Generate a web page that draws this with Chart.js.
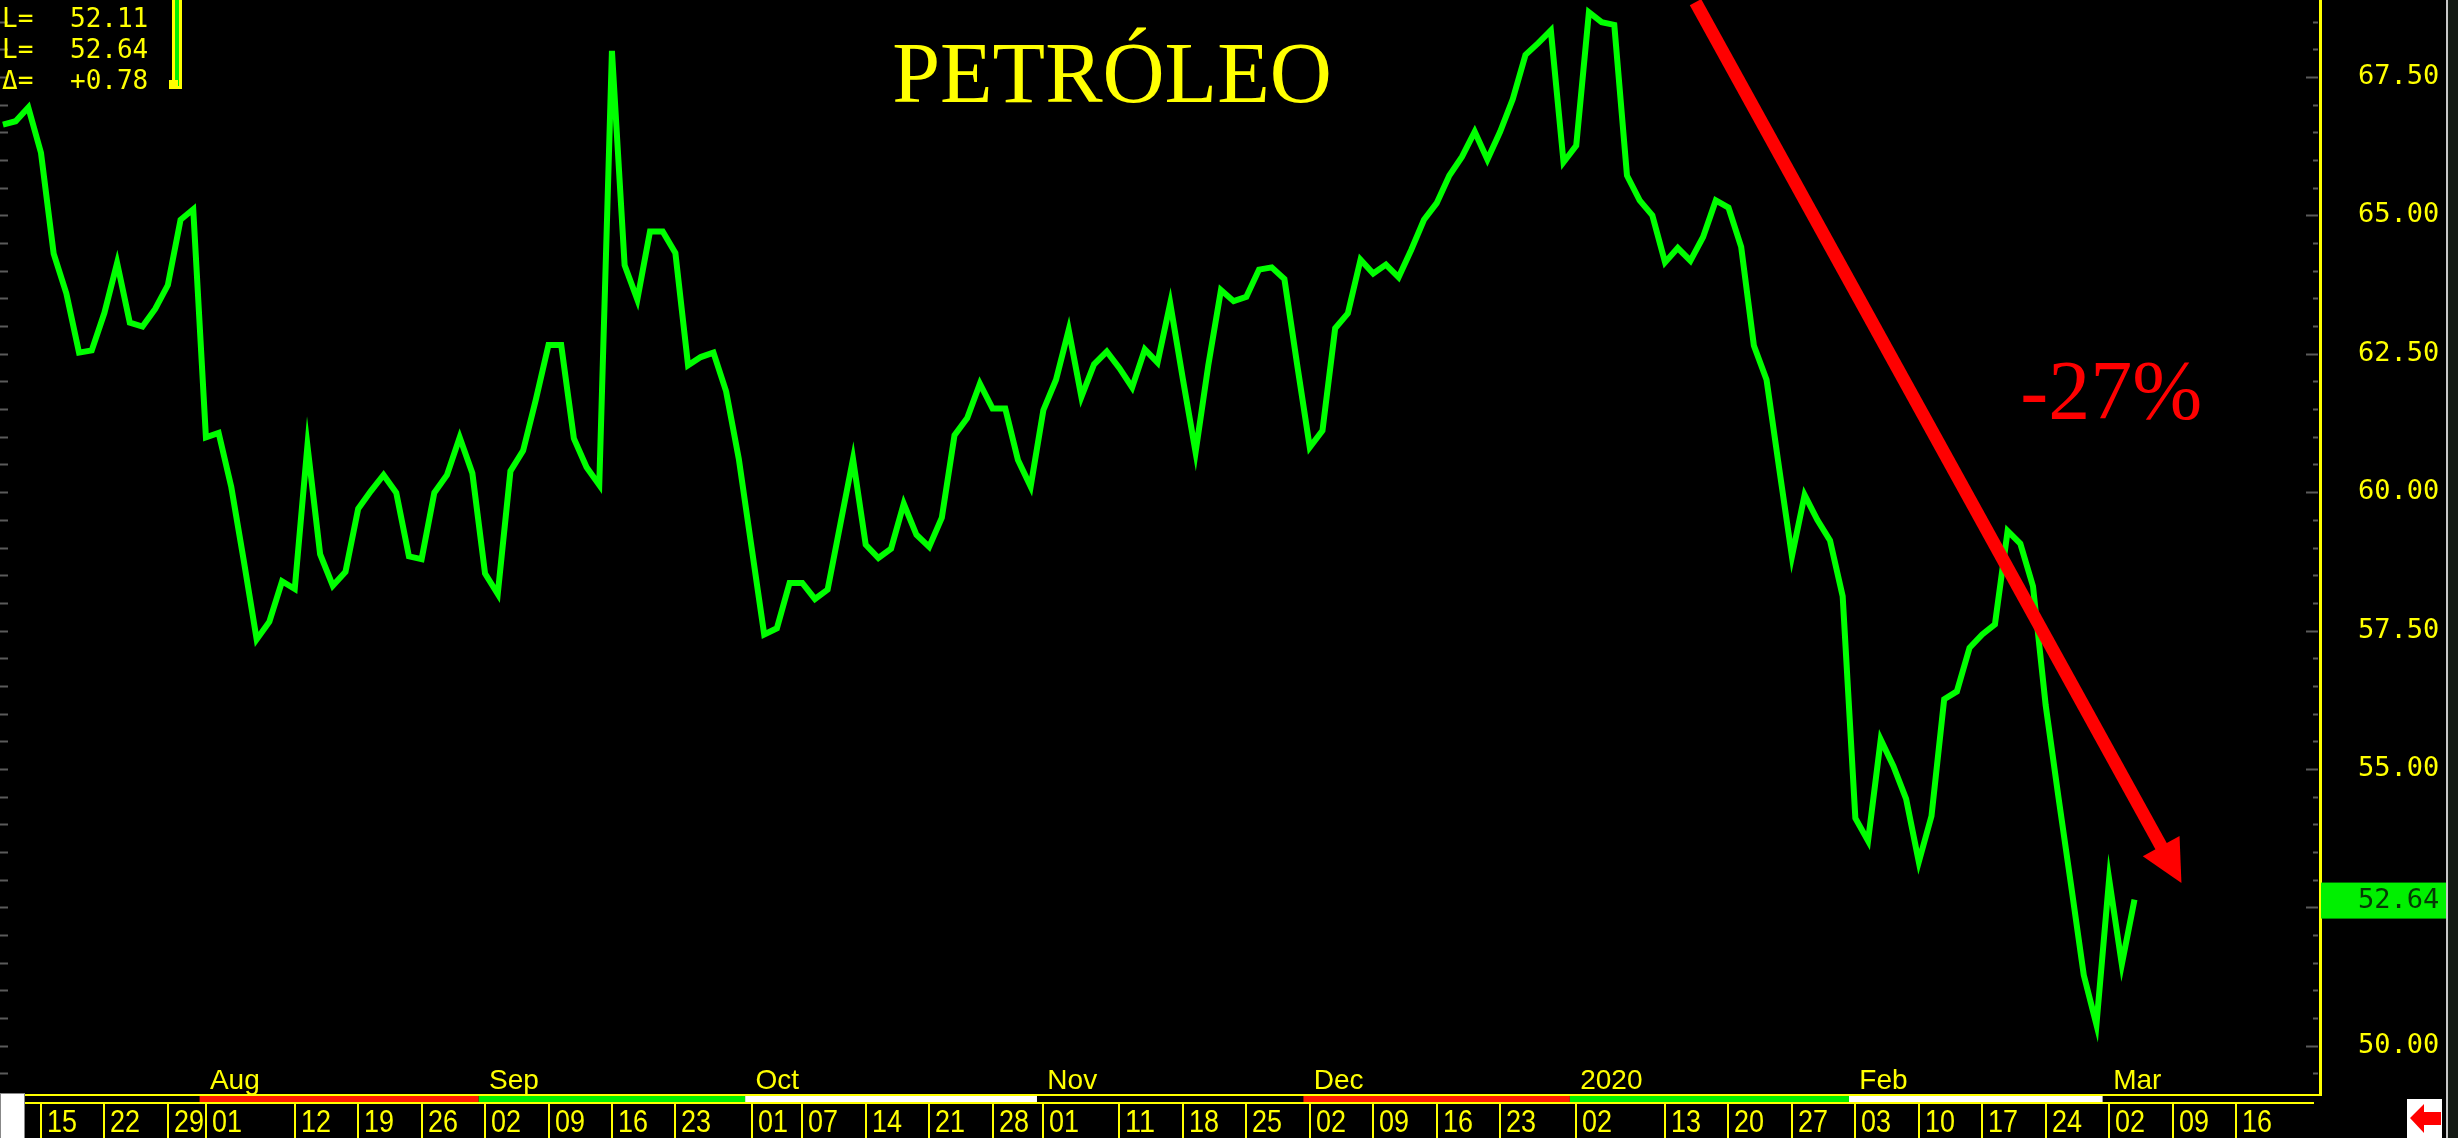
<!DOCTYPE html>
<html>
<head>
<meta charset="utf-8">
<script src="https://cdn.jsdelivr.net/npm/chart.js@4.4.1/dist/chart.umd.min.js"></script>
<style>
  html, body { margin: 0; padding: 0; background: #000; overflow: hidden; }
  #wrap { width: 2458px; height: 1138px; position: relative; }
</style>
</head>
<body>
<div id="wrap"><canvas id="chart" width="2458" height="1138"></canvas></div>
<script>
// Trading calendar: weekdays, minus the days the market was shut
const firstDay = "2019-07-10";
const lastDay = "2020-03-20";
const holidays = ["2019-12-25", "2020-01-01"];

// Daily closes, one per trading day from 2019-07-10 to 2020-03-04
const closes = [
  66.64, 66.70, 66.95, 66.13, 64.31, 63.59, 62.52, 62.56, 63.24, 64.14,
  63.06, 62.99, 63.31, 63.74, 64.92, 65.11, 60.99, 61.07, 60.09, 58.74,
  57.34, 57.66, 58.39, 58.25, 60.84, 58.88, 58.31, 58.56, 59.70, 60.02,
  60.31, 59.99, 58.84, 58.79, 59.99, 60.31, 60.99, 60.34, 58.53, 58.16,
  60.38, 60.75, 61.67, 62.66, 62.66, 60.97, 60.45, 60.13, 67.97, 64.10,
  63.48, 64.71, 64.71, 64.32, 62.29, 62.44, 62.52, 61.82, 60.60, 59.01,
  57.43, 57.54, 58.36, 58.36, 58.07, 58.24, 59.42, 60.60, 59.05, 58.81,
  58.98, 59.79, 59.23, 59.01, 59.54, 61.03, 61.34, 61.96, 61.51, 61.51,
  60.58, 60.10, 61.48, 62.03, 62.93, 61.72, 62.31, 62.54, 62.24, 61.89,
  62.58, 62.34, 63.41, 62.04, 60.72, 62.29, 63.65, 63.45, 63.53, 64.02,
  64.06, 63.85, 62.31, 60.81, 61.11, 62.96, 63.23, 64.20, 63.95, 64.11,
  63.88, 64.38, 64.92, 65.22, 65.72, 66.06, 66.51, 66.01, 66.51, 67.10,
  67.90, 68.11, 68.34, 65.96, 66.26, 68.67, 68.49, 68.44, 65.72, 65.27,
  65.00, 64.15, 64.41, 64.18, 64.61, 65.27, 65.14, 64.43, 62.65, 62.03,
  60.42, 58.84, 59.95, 59.50, 59.13, 58.12, 54.11, 53.70, 55.53, 55.05,
  54.46, 53.32, 54.15, 56.26, 56.40, 57.19, 57.43, 57.61, 59.30, 59.07,
  58.30, 56.15, 54.50, 52.90, 51.28, 50.38, 53.01, 51.47, 52.64
];

// Price axis
const yTicks = [50, 52.5, 55, 57.5, 60, 62.5, 65, 67.5];
const yMin = 49.11;
const yMax = 68.89;
const lastPrice = 52.64;

// Date strip under the chart
const dayTicks = [
  "2019-07-15", "2019-07-22", "2019-07-29", "2019-08-01", "2019-08-12", "2019-08-19",
  "2019-08-26", "2019-09-02", "2019-09-09", "2019-09-16", "2019-09-23", "2019-10-01",
  "2019-10-07", "2019-10-14", "2019-10-21", "2019-10-28", "2019-11-01", "2019-11-11",
  "2019-11-18", "2019-11-25", "2019-12-02", "2019-12-09", "2019-12-16", "2019-12-23",
  "2020-01-02", "2020-01-13", "2020-01-20", "2020-01-27", "2020-02-03", "2020-02-10",
  "2020-02-17", "2020-02-24", "2020-03-02", "2020-03-09", "2020-03-16"
];
const monthStarts = ["2019-08-01", "2019-09-02", "2019-10-01", "2019-11-01", "2019-12-02", "2020-01-02", "2020-02-03", "2020-03-02"];
const monthLabels = ["Aug", "Sep", "Oct", "Nov", "Dec", "2020", "Feb", "Mar"];
const bandColors = ["#00ee00", "#ffffff", "#000000", "#ff1a00"]; // by month number % 4

// Readout in the top left corner
const readoutKeys = ["L=", "L=", "\u0394="];
const readoutValues = ["52.11", "52.64", "+0.78"];

// Annotations, in [trading-day index, price]
const title = "PETR\u00d3LEO";
const arrowFrom = [133.4, 68.85];
const arrowTo = [171.7, 52.94];
const changeText = "-27%";
const changeAt = [159.0, 61.32];

const YELLOW = "#ffff00";

function buildCalendar(from, to, skip) {
  const days = [];
  const d = new Date(from + "T00:00:00Z");
  const end = new Date(to + "T00:00:00Z");
  while (d <= end) {
    const iso = d.toISOString().slice(0, 10);
    const wd = d.getUTCDay();
    if (wd !== 0 && wd !== 6 && !skip.includes(iso)) days.push(iso);
    d.setUTCDate(d.getUTCDate() + 1);
  }
  return days;
}

const calendar = buildCalendar(firstDay, lastDay, holidays);
const dayIndex = iso => calendar.indexOf(iso);

// text squeezed to a given width per character
function squeezeText(ctx, text, px, py, perChar) {
  const w = ctx.measureText(text).width;
  const sx = (perChar * text.length) / w;
  ctx.save();
  ctx.translate(px, py);
  ctx.scale(sx, 1);
  ctx.fillText(text, 0, 0);
  ctx.restore();
}

// Tick dashes, price box, date strip, readout, title, arrow
const decorPlugin = {
  id: "decor",
  afterDatasetsDraw(chart) {
    const { ctx, scales: { x, y } } = chart;
    // red trend arrow
    const x0 = x.getPixelForValue(arrowFrom[0]), y0 = y.getPixelForValue(arrowFrom[1]);
    const x1 = x.getPixelForValue(arrowTo[0]), y1 = y.getPixelForValue(arrowTo[1]);
    const len = Math.hypot(x1 - x0, y1 - y0);
    const ux = (x1 - x0) / len, uy = (y1 - y0) / len;
    const head = 42, half = 21;
    ctx.save();
    ctx.strokeStyle = "#ff0000";
    ctx.fillStyle = "#ff0000";
    ctx.lineWidth = 13;
    ctx.beginPath();
    ctx.moveTo(x0, y0);
    ctx.lineTo(x1 - ux * head * 0.8, y1 - uy * head * 0.8);
    ctx.stroke();
    ctx.beginPath();
    ctx.moveTo(x1, y1);
    ctx.lineTo(x1 - ux * head - uy * half, y1 - uy * head + ux * half);
    ctx.lineTo(x1 - ux * head + uy * half, y1 - uy * head - ux * half);
    ctx.closePath();
    ctx.fill();
    ctx.restore();
  },
  afterDraw(chart) {
    const { ctx, chartArea: area, scales: { x, y } } = chart;
    ctx.save();

    // small price dashes on both edges
    ctx.strokeStyle = "#5a5a5a";
    ctx.lineWidth = 2;
    for (let v = 49.5; v <= 68.5; v += 0.5) {
      const py = Math.round(y.getPixelForValue(v)) + 0.5;
      const major = Math.abs(v / 2.5 - Math.round(v / 2.5)) < 1e-6;
      ctx.beginPath();
      ctx.moveTo(major ? area.right - 14 : area.right - 7, py);
      ctx.lineTo(area.right - 2, py);
      ctx.moveTo(0, py);
      ctx.lineTo(8, py);
      ctx.stroke();
    }

    // last price box
    const lp = y.getPixelForValue(lastPrice);
    ctx.fillStyle = "#00f000";
    ctx.fillRect(area.right + 1, lp - 17, 126, 36);
    ctx.fillStyle = "#063806";
    ctx.font = "27px 'DejaVu Sans Mono', monospace";
    ctx.textBaseline = "middle";
    ctx.textAlign = "left";
    ctx.fillText(lastPrice.toFixed(2), area.right + 38, lp + 1);

    // right edge of the window
    ctx.fillStyle = "#c8c8c8";
    ctx.fillRect(2446, 0, 2, 1138);
    ctx.fillStyle = "#141a14";
    ctx.fillRect(2448, 0, 10, 1138);

    // date strip band
    const bandL = 25, bandR = 2314, top = area.bottom;
    ctx.fillStyle = YELLOW;
    ctx.fillRect(bandL, top - 1, area.right - bandL + 2, 2);
    ctx.fillRect(bandL, top + 7, bandR - bandL, 2);
    let segStart = bandL;
    let curMonth = Number(calendar[0].slice(5, 7)) - 1;
    for (let k = 1; k < calendar.length; k++) {
      const m = Number(calendar[k].slice(5, 7)) - 1;
      if (m !== curMonth) {
        const edge = x.getPixelForValue(k - 0.5);
        ctx.fillStyle = bandColors[curMonth % 4];
        ctx.fillRect(segStart, top + 1, Math.min(edge, bandR) - segStart, 6);
        segStart = edge;
        curMonth = m;
      }
    }
    ctx.fillStyle = bandColors[curMonth % 4];
    ctx.fillRect(segStart, top + 1, bandR - segStart, 6);

    // day ticks
    ctx.fillStyle = YELLOW;
    ctx.textBaseline = "alphabetic";
    ctx.font = "32px 'Liberation Sans Narrow', 'Liberation Sans', sans-serif";
    dayTicks.forEach(d => {
      const px = Math.round(x.getPixelForValue(dayIndex(d)));
      ctx.fillRect(px - 1, top + 9, 2, 1138 - top - 9);
      squeezeText(ctx, d.slice(8, 10), px + 6, 1132, 15);
    });

    // month names
    ctx.font = "28px 'Liberation Sans', sans-serif";
    monthStarts.forEach((d, i) => {
      const px = x.getPixelForValue(dayIndex(d));
      ctx.fillText(monthLabels[i], px + 4, top - 6);
    });

    // white box in the bottom left corner
    ctx.fillStyle = "#ffffff";
    ctx.fillRect(0, 1093, 25, 45);
    ctx.strokeStyle = "#888888";
    ctx.lineWidth = 1;
    ctx.strokeRect(0.5, 1093.5, 24, 45);

    // back arrow icon in the bottom right corner
    ctx.fillStyle = "#ffffff";
    ctx.fillRect(2407, 1099, 35, 39);
    ctx.fillStyle = "#ff0000";
    ctx.beginPath();
    ctx.moveTo(2410, 1118);
    ctx.lineTo(2424, 1104);
    ctx.lineTo(2424, 1112);
    ctx.lineTo(2441, 1112);
    ctx.lineTo(2441, 1125);
    ctx.lineTo(2424, 1125);
    ctx.lineTo(2424, 1133);
    ctx.closePath();
    ctx.fill();

    // readout
    ctx.fillStyle = YELLOW;
    ctx.font = "26px 'DejaVu Sans Mono', monospace";
    readoutKeys.forEach((key, i) => {
      const base = 27 + i * 31;
      ctx.fillText(key, 2, base);
      ctx.fillText(readoutValues[i], 70, base);
    });
    ctx.fillStyle = YELLOW;
    ctx.fillRect(172, 0, 10, 89);
    ctx.fillStyle = "#00ee00";
    ctx.fillRect(175, 0, 4, 86);
    ctx.fillStyle = YELLOW;
    ctx.fillRect(169, 80, 9, 9);

    // title
    ctx.fillStyle = YELLOW;
    ctx.font = "86px 'Liberation Serif', 'DejaVu Serif', serif";
    ctx.textAlign = "center";
    ctx.fillText(title, 1112, 102);

    // change label
    ctx.fillStyle = "#ff0000";
    ctx.font = "84px 'Liberation Serif', 'DejaVu Serif', serif";
    ctx.textAlign = "left";
    ctx.fillText(changeText, x.getPixelForValue(changeAt[0]), y.getPixelForValue(changeAt[1]));

    ctx.restore();
  }
};

new Chart(document.getElementById("chart"), {
  type: "line",
  data: {
    datasets: [{
      data: closes.map((v, k) => ({ x: k, y: v })),
      borderColor: "#00ff00",
      borderWidth: 6,
      pointRadius: 0,
      tension: 0,
      fill: false
    }]
  },
  options: {
    responsive: false,
    devicePixelRatio: 1,
    animation: false,
    layout: { padding: { left: 0, top: 0, right: 0, bottom: 43 } },
    plugins: {
      legend: { display: false },
      tooltip: { enabled: false }
    },
    scales: {
      x: {
        type: "linear",
        display: false,
        min: -0.23,
        max: 182.62
      },
      y: {
        position: "right",
        min: yMin,
        max: yMax,
        afterBuildTicks: axis => { axis.ticks = yTicks.map(v => ({ value: v })); },
        afterFit: axis => {
          axis.width = 138;
          axis.paddingTop = 0;
          axis.paddingBottom = 0;
        },
        grid: { display: false, drawTicks: false },
        border: { display: true, color: YELLOW, width: 3 },
        ticks: {
          color: YELLOW,
          padding: 38,
          font: { family: "'DejaVu Sans Mono', monospace", size: 27 },
          callback: v => v.toFixed(2)
        }
      }
    }
  },
  plugins: [decorPlugin]
});
</script>
</body>
</html>
